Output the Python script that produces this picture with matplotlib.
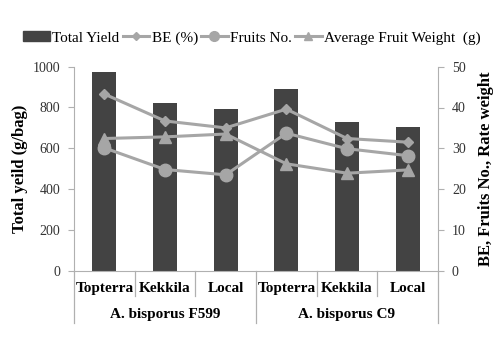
import matplotlib
matplotlib.use("Agg")
import matplotlib.pyplot as plt
from matplotlib.lines import Line2D
from matplotlib.patches import Patch
import numpy as np

categories = ["Topterra", "Kekkila", "Local", "Topterra", "Kekkila", "Local"]
groups = ["A. bisporus F599", "A. bisporus C9"]
total_yield = [975, 823, 793, 889, 727, 706]
be = [43.3, 36.7, 35.0, 39.6, 32.4, 31.5]
fruits_no = [30.1, 24.8, 23.5, 33.7, 29.9, 28.2]
avg_weight = [32.4, 32.8, 33.5, 26.2, 23.9, 24.7]

plt.rcParams['font.family'] = ['Liberation Serif', 'DejaVu Serif']

bar_c = '#434343'
line_c = '#a6a6a6'
spine_c = '#b0b0b0'

fig = plt.figure(figsize=(5.0, 3.48), dpi=100)
ax = fig.add_axes([74/500, 1-270.7/348, 364/500, 204/348])
x = np.arange(len(categories))
ax.bar(x, total_yield, width=0.4, color=bar_c, zorder=2)
ax.set_xlim(-0.5, len(categories)-0.5)
ax.set_ylim(0, 1000)
ax.set_yticks(range(0, 1001, 200))
ax.set_xticks([])

ax2 = ax.twinx()
ax2.set_ylim(0, 50)
ax2.set_yticks(range(0, 51, 10))
lw = 2.2
ax2.plot(x, be, color=line_c, lw=lw, marker='D', ms=5.5, zorder=3)
ax2.plot(x, fruits_no, color=line_c, lw=lw, marker='o', ms=9, zorder=3)
ax2.plot(x, avg_weight, color=line_c, lw=lw, marker='^', ms=8, zorder=3)

for a in (ax, ax2):
    a.spines['top'].set_visible(False)
    for s in ['left', 'right', 'bottom']:
        a.spines[s].set_color(spine_c)
    a.tick_params(axis='y', colors='#333333', labelsize=10, length=4, color=spine_c, pad=6)
ax.spines['right'].set_visible(False)
ax2.spines['left'].set_visible(False)
ax2.spines['bottom'].set_visible(False)
ax.tick_params(axis='x', length=0)

ax.set_ylabel("Total yeild (g/bag)", fontsize=12, fontweight='bold', labelpad=3)
ax2.set_ylabel("BE, Fruits No., Rate weight", fontsize=12, fontweight='bold', rotation=90, labelpad=9)

# multi-level x axis
trans = ax.get_xaxis_transform()
for i, c in enumerate(categories):
    ax.text(i, -0.085, c, transform=trans, ha='center', va='center', fontsize=11, fontweight='bold')
n_per = len(categories) // len(groups)
for gi, g in enumerate(groups):
    ax.text(gi*n_per + (n_per-1)/2, -0.215, g, transform=trans, ha='center', va='center', fontsize=11, fontweight='bold')
for b in np.arange(-0.5, len(categories), 1.0):
    is_group = abs(((b + 0.5) % n_per)) < 1e-9
    y_end = -0.255 if is_group else -0.125
    ax.plot([b, b], [0, y_end], transform=trans, color=spine_c, lw=0.9, clip_on=False)

handles = [Patch(color=bar_c),
           Line2D([], [], color=line_c, lw=lw, marker='D', ms=4),
           Line2D([], [], color=line_c, lw=lw, marker='o', ms=7),
           Line2D([], [], color=line_c, lw=lw, marker='^', ms=6)]
labels = ["Total Yield", "BE (%)", "Fruits No.", "Average Fruit Weight  (g)"]
fig.legend(handles, labels, loc='center', bbox_to_anchor=(252/500, 1-38/348), ncol=4, frameon=False,
           fontsize=11, handlelength=1.75, handletextpad=0.15, columnspacing=0.2, handleheight=0.6,
           borderpad=0, borderaxespad=0)

fig.savefig("out.png", dpi=100)
